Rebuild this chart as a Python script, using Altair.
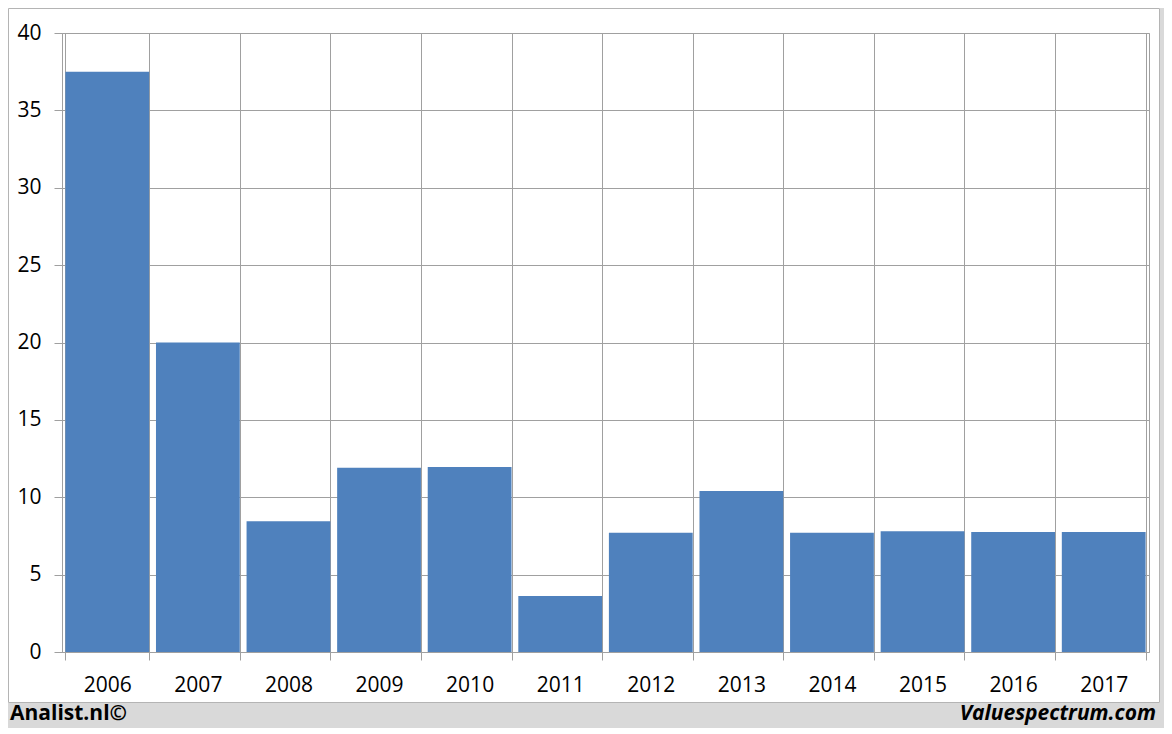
import altair as alt
import pandas as pd

years = ["2006", "2007", "2008", "2009", "2010", "2011", "2012", "2013", "2014", "2015", "2016", "2017"]
values = [37.5, 20.0, 8.45, 11.9, 11.95, 3.62, 7.7, 10.4, 7.7, 7.8, 7.75, 7.75]
y_ticks = [0, 5, 10, 15, 20, 25, 30, 35, 40]
left_note = "Analist.nl©"
right_note = "Valuespectrum.com"

df = pd.DataFrame({"year": years, "value": values})
one = pd.DataFrame({"a": [0]})

GRID = "#a0a0a0"
FONT = "Open Sans"

bars = alt.Chart(df).mark_bar(color="#4f81bd").encode(
    x=alt.X("year:N", sort=years,
            scale=alt.Scale(paddingInner=0.075, paddingOuter=0.0375),
            axis=alt.Axis(title=None, labelAngle=0, tickBand="extent", grid=True,
                          gridColor=GRID, tickColor=GRID, domain=False,
                          tickSize=8, labelPadding=14, labelFont=FONT,
                          labelFontSize=21, labelColor="#000000")),
    y=alt.Y("value:Q", scale=alt.Scale(domain=[0, 40], nice=False),
            axis=alt.Axis(title=None, values=y_ticks, grid=True, gridColor=GRID,
                          tickColor=GRID, domainColor=GRID, tickSize=8,
                          labelPadding=13, labelFont=FONT, labelFontSize=21,
                          labelColor="#000000")),
)

base = alt.Chart(one)
footer = base.mark_rect(color="#d9d9d9").encode(
    x=alt.value(-60), x2=alt.value(1120), y=alt.value(670), y2=alt.value(710))
right_strip = base.mark_rect(color="#d9d9d9").encode(
    x=alt.value(1098), x2=alt.value(1120), y=alt.value(-30), y2=alt.value(670))
border_r = base.mark_rule(color="#b4b4b4").encode(
    x=alt.value(1097.5), y=alt.value(-24.5), y2=alt.value(669.5))
border_b = base.mark_rule(color="#b4b4b4").encode(
    x=alt.value(-53.5), x2=alt.value(1097.5), y=alt.value(669.5))
border_l = base.mark_rule(color="#b4b4b4").encode(
    x=alt.value(-53.5), y=alt.value(-24.5), y2=alt.value(669.5))
border_t = base.mark_rule(color="#b4b4b4").encode(
    x=alt.value(-53.5), x2=alt.value(1097.5), y=alt.value(-24.5))

txt_l = base.mark_text(text=left_note, font=FONT, fontSize=21, fontWeight="bold",
                       align="left", baseline="alphabetic", color="#000000").encode(
    x=alt.value(-52), y=alt.value(687))
txt_r = base.mark_text(text=right_note, font=FONT, fontSize=21, fontWeight="bold",
                       fontStyle="italic", align="right", baseline="alphabetic",
                       color="#000000").encode(
    x=alt.value(1094), y=alt.value(687))

chart = alt.layer(bars, footer, right_strip, border_r, border_b, border_l, border_t,
                  txt_l, txt_r).properties(
    width=1087, height=619,
    autosize=alt.AutoSizeParams(type="none"),
    padding={"left": 54, "top": 25, "right": 15, "bottom": 76},
    background="#ffffff",
).configure_view(stroke=GRID, strokeWidth=1)

chart.save("out.html", embed_options={"renderer": "svg", "actions": False})
